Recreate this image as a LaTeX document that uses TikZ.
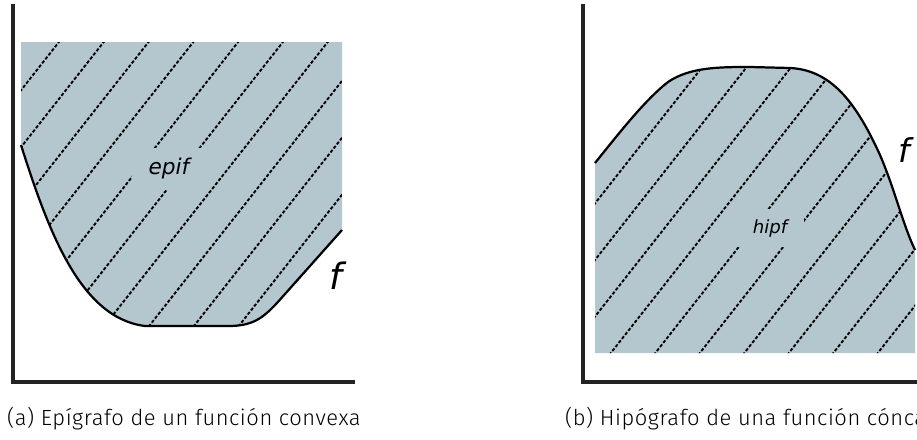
\documentclass[tikz,border=0pt]{standalone}
\usepackage{fontspec}
\setmainfont{Fira Sans Light}[LetterSpace=2.5]
\newfontfamily\labelfont{DejaVu Sans}
\definecolor{regioncolor}{RGB}{180,198,206}
\definecolor{axiscolor}{RGB}{35,35,35}

\begin{document}
\begin{tikzpicture}[x=0.03cm, y=-0.03cm,
	axis/.style={axiscolor, line width=3pt},
	graph/.style={black, line width=1.9pt, line join=round},
	hatch/.style={black, line width=1.6pt, dash pattern=on 2.8pt off 1.6pt},
	tag/.style={font=\labelfont\fontsize{#1}{#1}\selectfont\itshape, inner sep=0pt},
	caption/.style={anchor=base west, inner sep=0pt, font=\fontsize{18.7}{22}\selectfont}]
	\useasboundingbox (0,0) rectangle (917,439);
	\clip (0,0) rectangle (917,439);
	\def\epicurve{(21,145) .. controls (48,230) and (80,318) .. (145,326) -- (228,326) .. controls (252,326) and (262,319) .. (277,303) -- (342,230)}
	\def\hipcurve{(595,163) .. controls (620,132) and (645,100) .. (668,82) .. controls (690,67) and (720,67) .. (750,67) -- (790,68) .. controls (830,70) and (855,100) .. (880,155) .. controls (895,190) and (903,225) .. (915,250)}
	\coordinate (O1) at (13,382);
	\coordinate (Y1) at (13,4);
	\coordinate (X1) at (355,382);
	\coordinate (O2) at (583,382);
	\coordinate (Y2) at (583,4);
	\coordinate (X2) at (940,382);
	\fill[regioncolor] \epicurve -- (342,42) -- (21,42) -- cycle;
	\fill[regioncolor] \hipcurve -- (915,353) -- (595,353) -- cycle;
	\begin{scope}
		\clip \epicurve -- (342,42) -- (21,42) -- cycle;
		\foreach \k in {0,...,9}
			\draw[hatch] ({92+44.8*\k},0) -- ++(-354,450);
	\end{scope}
	\begin{scope}
		\clip \hipcurve -- (915,353) -- (595,353) -- cycle;
		\foreach \k in {0,...,9}
			\draw[hatch] ({755+44.5*\k},0) -- ++(-354,450);
	\end{scope}
	\node[tag=18.5, fill=regioncolor, inner xsep=14pt, inner ysep=9pt] (epi) at (169,169) {epif};
	\node[tag=15.5, fill=regioncolor, inner xsep=14pt, inner ysep=9pt] (hip) at (770,228) {hipf};
	\draw[graph] \epicurve;
	\draw[graph] \hipcurve;
	\draw[axis] (Y1) -- (O1) -- (X1);
	\draw[axis] (Y2) -- (O2) -- (X2);
	\node[tag=31] (f1) at (336,276) {f};
	\node[tag=28] (f2) at (904,150) {f};
	\node[caption] (capa) at (7,425) {(a) Epígrafo de un función convexa};
	\node[caption] (capb) at (565,425) {(b) Hipógrafo de una función cóncava};
\end{tikzpicture}
\end{document}
